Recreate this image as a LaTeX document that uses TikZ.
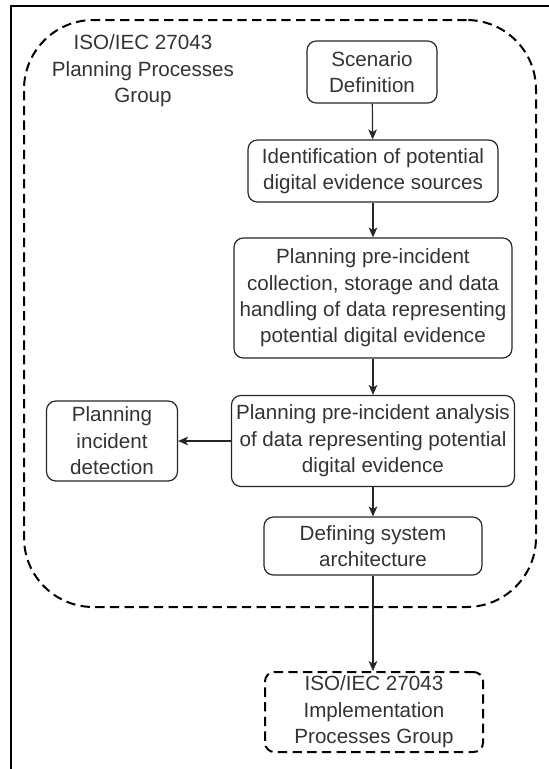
\documentclass[tikz,border=0pt]{standalone}
\usepackage{fontspec}
\setmainfont{Liberation Sans}
\usetikzlibrary{arrows.meta}
\newcommand{\lblfont}{\fontsize{15.45pt}{19.8pt}\selectfont}
\begin{document}
\begin{tikzpicture}[x=0.75pt,y=-0.75pt,
  proc/.style={draw=black!85, line width=0.9pt, rounded corners=7pt,
    align=center, inner sep=0pt, font=\lblfont, text=black!80},
  grp/.style={draw=black, line width=1.5pt, dash pattern=on 7pt off 4pt,
    inner sep=0pt},
  flow/.style={draw=black!85, line width=0.9pt,
    -{Stealth[length=7.5pt,width=6.5pt,inset=2pt]}}]
\useasboundingbox (0,0) rectangle (549,769);
% page frame (open to the right and bottom)
\draw[line width=1.5pt] (11,769) -- (11,6) -- (549,6);

% planning processes group
\node[grp, rounded corners=52pt, minimum width=384pt, minimum height=440.25pt]
  (group) at (280,313.5) {};
\node[align=center, font=\lblfont, text=black!80] (grouplbl) at (143,71)
  {ISO/IEC 27043\\Planning Processes\\Group};

% process steps
\node[proc, minimum width=97.5pt, minimum height=46.5pt] (scen) at (372,72)
  {Scenario\\Definition};
\node[proc, minimum width=187.5pt, minimum height=46.5pt] (ident) at (373,171)
  {Identification of potential\\digital evidence sources};
\node[proc, minimum width=208.5pt, minimum height=90pt] (collect) at (373,298)
  {Planning pre-incident\\collection, storage and data\\handling of data representing\\potential digital evidence};
\node[proc, minimum width=212.25pt, minimum height=68.25pt] (analysis) at (373,441)
  {Planning pre-incident analysis\\of data representing potential\\digital evidence};
\node[proc, minimum width=98.25pt, minimum height=60pt] (detect) at (112,441)
  {Planning\\incident\\detection};
\node[proc, minimum width=163.5pt, minimum height=43.5pt] (arch) at (373,546)
  {Defining system\\architecture};

% implementation processes group
\node[grp, rounded corners=7pt, minimum width=163.5pt, minimum height=60pt,
  align=center, font=\lblfont, text=black!80] (impl) at (374,712)
  {ISO/IEC 27043\\Implementation\\Processes Group};

% connectors
\draw[flow] (scen) -- (ident);
\draw[flow] (ident) -- (collect);
\draw[flow] (collect) -- (analysis);
\draw[flow] (analysis) -- (detect);
\draw[flow] (analysis) -- (arch);
\draw[flow] (arch.south) -- (arch.south |- impl.north);
\end{tikzpicture}
\end{document}
